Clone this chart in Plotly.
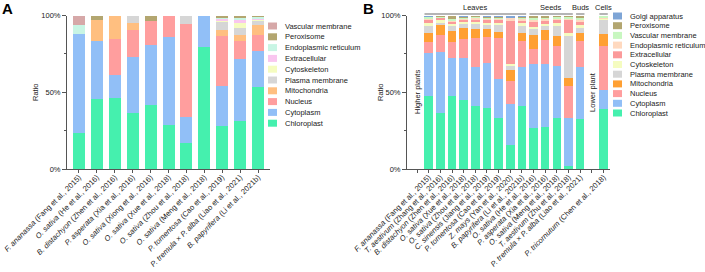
import plotly.graph_objects as go

W, H = 705, 272
FONT = "Liberation Sans, Arial, sans-serif"

# ---------------- Panel A data ----------------
A_species = ["F. ananassa", "O. sativa", "B. distachyon", "P. asperata", "O. sativa", "O. sativa",
             "O. sativa", "O. sativa", "P. tomentosa", "P. tremula × P. alba", "B. papyrifera"]
A_refs = ["(Fang et al., 2015)", "(He et al., 2016)", "(Zhen et al., 2016)", "(Xia et al., 2016)",
          "(Xiong et al., 2016)", "(Xue et al., 2018)", "(Zhou et al., 2018)", "(Meng et al., 2018)",
          "(Cao et al., 2019)", "(Liao et al., 2021)", "(Li et al., 2021b)"]

A_chloroplast = [23.4, 45.8, 46.0, 36.4, 41.9, 28.6, 16.9, 79.8, 27.8, 31.5, 53.4]
A_cytoplasm = [64.7, 37.7, 15.4, 36.3, 38.6, 57.1, 16.7, 20.2, 25.8, 39.9, 23.2]
A_nucleus = [0, 0, 23.0, 18.0, 16.0, 14.3, 60.8, 0, 32.7, 12.1, 10.6]
A_mitochondria = [0, 13.5, 15.6, 4.5, 0, 0, 0, 0, 3.7, 4.1, 6.7]
A_plasma = [0, 0, 0, 4.8, 0, 0, 5.6, 0, 5.0, 4.2, 3.1]
A_cytoskeleton = [0, 0, 0, 0, 0, 0, 0, 0, 1.7, 3.4, 1.0]
A_extracellular = [0, 0, 0, 0, 0, 0, 0, 0, 0.8, 2.2, 0.4]
A_er = [5.8, 0, 0, 0, 0, 0, 0, 0, 1.3, 1.3, 1.0]
A_peroxisome = [0, 3.0, 0, 0, 3.5, 0, 0, 0, 0.7, 1.3, 0.6]
A_vascular = [6.1, 0, 0, 0, 0, 0, 0, 0, 0, 0, 0]

A_series = [
    ("Chloroplast", A_chloroplast, "#45f0ae"),
    ("Cytoplasm", A_cytoplasm, "#91bff7"),
    ("Nucleus", A_nucleus, "#ff9e9e"),
    ("Mitochondria", A_mitochondria, "#ffbf80"),
    ("Plasma membrane", A_plasma, "#d6d6d6"),
    ("Cytoskeleton", A_cytoskeleton, "#f5fcc0"),
    ("Extracellular", A_extracellular, "#f9c6ef"),
    ("Endoplasmic reticulum", A_er, "#c8f5e4"),
    ("Peroxisome", A_peroxisome, "#b3a670"),
    ("Vascular membrane", A_vascular, "#d6a8a8"),
]

# ---------------- Panel B data ----------------
# None marks an empty slot (group label column)
B_species = [None, "F. ananassa", "T. aestivum", "B. distachyon", "O. sativa", "O. sativa", "C. sinensis",
             "P. tomentosa", "Z. mays", "B. papyrifera", "O. sativa", "P. asperata", "O. sativa",
             "T. aestivum", "P. tremula × P. alba", None, "P. tricornutum"]
B_refs = [None, "(Fang et al., 2015)", "(Zhang et al., 2016)", "(Zhen et al., 2016)", "(Xue et al., 2018)",
          "(Zhou et al., 2018)", "(Jiang et al., 2019)", "(Cao et al., 2019)", "(Yan et al., 2020)",
          "(Li et al., 2021b)", "(He et al., 2016)", "(Xia et al., 2016)", "(Meng et al., 2018)",
          "(Zhu et al., 2018)", "(Liao et al., 2021)", None, "(Chen et al., 2018)"]

B_chloroplast = [47.7, 36.4, 48.2, 45.1, 41.2, 39.5, 33.2, 15.6, 41.2, 26.9, 27.5, 33.0, 1.7, 32.5, 39.2]
B_cytoplasm = [28.0, 40.1, 24.7, 27.4, 25.4, 29.5, 25.6, 26.7, 25.2, 41.2, 41.0, 33.8, 31.7, 33.7, 12.6]
B_nucleus = [7.2, 10.6, 10.2, 12.3, 18.9, 16.9, 26.7, 15.2, 16.9, 10.0, 15.4, 13.2, 20.8, 17.1, 28.5]
B_mitochondria = [5.8, 6.5, 7.6, 7.2, 5.8, 5.6, 3.9, 7.1, 5.2, 8.9, 6.8, 6.8, 5.2, 5.0, 8.0]
B_plasma = [4.6, 2.2, 3.7, 3.0, 3.7, 2.9, 5.2, 3.3, 5.4, 4.1, 2.1, 6.5, 28.0, 4.5, 9.5]
B_cytoskeleton = [1.5, 1.3, 1.0, 1.0, 1.0, 1.0, 0.8, 0.6, 0.9, 1.7, 1.3, 1.5, 1.3, 1.1, 0.5]
B_extracellular = [2.6, 1.7, 2.0, 2.0, 2.0, 2.0, 2.0, 27.6, 2.5, 3.9, 3.1, 2.6, 8.3, 2.8, 0.3]
B_er = [1.0, 0.6, 0.6, 0.5, 1.0, 1.0, 1.0, 2.4, 1.0, 1.0, 1.0, 1.0, 1.5, 1.0, 0.9]
B_vascular = [1.0, 0.4, 0.5, 0.5, 0.5, 0.8, 0.8, 0, 0.8, 1.0, 1.0, 1.0, 1.0, 1.0, 0.7]
B_peroxisome = [0.3, 0.3, 2.2, 0.5, 0.5, 0.5, 0.5, 0, 0.5, 1.3, 0.7, 0.6, 0.5, 1.3, 0]
B_golgi = [0.3, 0, 0, 0.5, 0, 0.3, 0.3, 1.5, 0.4, 0, 0, 0, 0, 0, 0]

B_series = [
    ("Chloroplast", B_chloroplast, "#45f0ae"),
    ("Cytoplasm", B_cytoplasm, "#91bff7"),
    ("Nucleus", B_nucleus, "#ff9e9e"),
    ("Mitochondria", B_mitochondria, "#ffa033"),
    ("Plasma membrane", B_plasma, "#d6d6d6"),
    ("Cytoskeleton", B_cytoskeleton, "#f5fcc0"),
    ("Extracellular", B_extracellular, "#fb9a9a"),
    ("Endoplasmic reticulum", B_er, "#ffd9bf"),
    ("Vascular membrane", B_vascular, "#c8f7c0"),
    ("Peroxisome", B_peroxisome, "#b3a670"),
    ("Golgi apparatus", B_golgi, "#7ea5d6"),
]

# groups in panel B: (label, first slot, last slot)
B_groups = [("Leaves", 1, 9), ("Seeds", 10, 13), ("Buds", 14, 14), ("Cells", 16, 16)]
B_sidelabels = [("Higher plants", 0), ("Lower plant", 15)]

Y_ticks = [0, 50, 100]


def px(x):
    return x / W


def py(y):
    return 1 - y / H


def ticklabel(sp, ref):
    if sp is None:
        return ""
    return f"<i>{sp}</i> {ref}"


fig = go.Figure()

A_x = list(range(len(A_species)))
for name, vals, col in A_series:
    fig.add_trace(go.Bar(x=A_x, y=vals, name=name, marker=dict(color=col, line=dict(width=0)),
                         width=0.67, xaxis="x", yaxis="y", showlegend=False))

B_slots = [i for i, s in enumerate(B_species) if s is not None]
for name, vals, col in B_series:
    fig.add_trace(go.Bar(x=B_slots, y=vals, name=name, marker=dict(color=col, line=dict(width=0)),
                         width=0.72, xaxis="x2", yaxis="y2", showlegend=False))

axcol = "#555555"
txtcol = "#222222"
SMALL = 7.5
tickfont = dict(family=FONT, size=7.6, color=txtcol)
ydom = [py(169), py(15.5)]

common_x = dict(showline=True, linecolor=axcol, linewidth=1, ticks="outside", ticklen=3,
                tickcolor=axcol, tickangle=-45, tickfont=tickfont, showgrid=False, zeroline=False,
                automargin=False, tickmode="array", ticklabeloverflow="allow",
                ticklabelstandoff=-3)
common_y = dict(showline=True, linecolor=axcol, linewidth=1, ticks="outside", ticklen=4,
                tickcolor=axcol, range=[0, 100], tickmode="array", tickvals=Y_ticks,
                ticktext=[f"{v}%" for v in Y_ticks],
                tickfont=dict(family=FONT, size=SMALL, color=txtcol), showgrid=False, zeroline=False,
                automargin=False,
                minor=dict(ticks="outside", tickvals=[25, 75], ticklen=2, tickcolor=axcol))

fig.update_layout(
    width=W, height=H, margin=dict(l=0, r=0, t=0, b=0),
    paper_bgcolor="white", plot_bgcolor="white",
    barmode="stack", barnorm="percent",
    font=dict(family=FONT, size=SMALL, color=txtcol),
    xaxis=dict(domain=[px(67), px(270)], range=[-0.67, len(A_x) - 0.33],
               tickvals=A_x, ticktext=[ticklabel(s, r) for s, r in zip(A_species, A_refs)],
               anchor="y", **common_x),
    yaxis=dict(domain=ydom, anchor="x", **common_y),
    xaxis2=dict(domain=[px(407), px(610)], range=[-0.86, len(B_species) - 0.45],
                tickvals=list(range(len(B_species))),
                ticktext=[ticklabel(s, r) for s, r in zip(B_species, B_refs)],
                anchor="y2", **common_x),
    yaxis2=dict(domain=ydom, anchor="x2", **common_y),
)

ann = []
shapes = []
C = dict(xanchor="center", yanchor="middle", showarrow=False)

# Panel letters
ann.append(dict(text="<b>A</b>", x=px(7), y=py(8), xref="paper", yref="paper",
                font=dict(size=15, family=FONT, color="black"), **C))
ann.append(dict(text="<b>B</b>", x=px(368), y=py(8), xref="paper", yref="paper",
                font=dict(size=15, family=FONT, color="black"), **C))
# Axis titles
for xx in (35, 380):
    ann.append(dict(text="Ratio", x=px(xx), y=py(92), xref="paper", yref="paper",
                    textangle=-90, font=dict(size=SMALL, family=FONT, color=txtcol), **C))

# Panel B group labels with bracket lines
half = 0.72 / 2
for label, a, b in B_groups:
    shapes.append(dict(type="line", xref="x2", yref="paper", x0=a - half, x1=b + half,
                       y0=py(14), y1=py(14), line=dict(color="#b5b5b5", width=2)))
    ann.append(dict(text=label, x=(a + b) / 2, y=py(7), xref="x2", yref="paper",
                    font=dict(size=SMALL, family=FONT, color=txtcol), **C))
for label, slot in B_sidelabels:
    ann.append(dict(text=label, x=slot, y=py(92), xref="x2", yref="paper",
                    textangle=-90, font=dict(size=SMALL, family=FONT, color=txtcol), **C))


# Manual legends (top entry = last stacked series)
def legend(series, x_sw, x_txt, y0, step):
    for k, (name, _, col) in enumerate(reversed(series)):
        yc = y0 + k * step
        shapes.append(dict(type="rect", xref="paper", yref="paper", x0=px(x_sw), x1=px(x_sw + 9),
                           y0=py(yc + 3.5), y1=py(yc - 3.5), fillcolor=col, line=dict(width=0)))
        ann.append(dict(text=name, x=px(x_txt), y=py(yc), xref="paper", yref="paper", showarrow=False,
                        xanchor="left", yanchor="middle", font=dict(size=SMALL, family=FONT, color=txtcol)))


legend(A_series, 268, 283, 26, 10.8)
legend(B_series, 613, 628, 16, 9.7)

fig.update_layout(annotations=ann, shapes=shapes)
fig.write_html("out.html", config={"displayModeBar": False},
               post_script="document.body.style.margin='0';document.body.style.overflow='hidden';")
